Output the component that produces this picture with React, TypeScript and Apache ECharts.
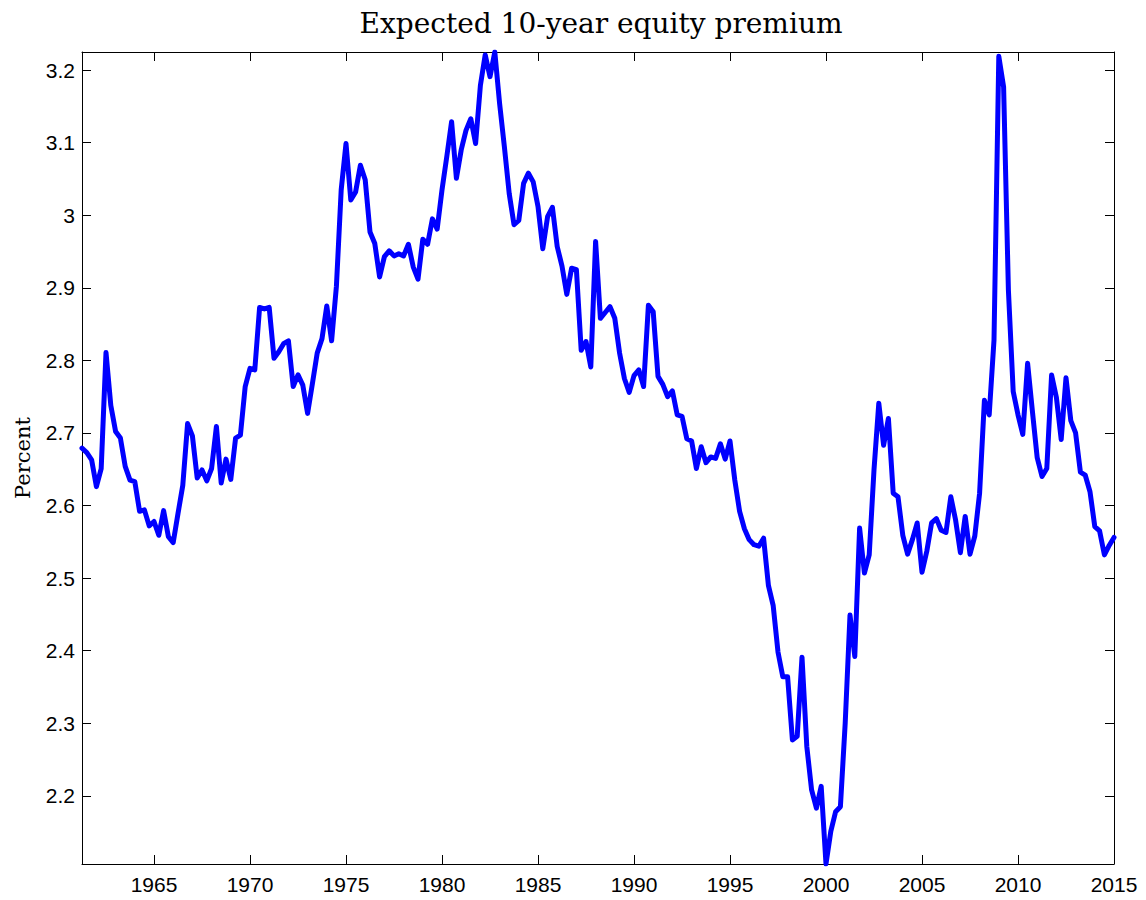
import React, { useEffect, useRef } from "react";
import * as echarts from "echarts";

// ---- Chart texts ----
const chartTitle = "Expected 10-year equity premium";
const yAxisTitle = "Percent";

// ---- Time axis: quarterly observations ----
const firstQuarter = 1961.25;
const quarterStep = 0.25;

// ---- Series values (percent), quarterly ----
const premium1961to1970 = [
  2.679, 2.673, 2.663,
  2.626, 2.651, 2.811, 2.738,
  2.702, 2.693, 2.654, 2.635,
  2.633, 2.592, 2.594, 2.572,
  2.578, 2.559, 2.593, 2.557,
  2.549, 2.589, 2.628, 2.713,
  2.696, 2.638, 2.649, 2.634,
  2.651, 2.709, 2.631, 2.664,
  2.636, 2.693, 2.697, 2.764,
];
const premium1970to1980 = [
  2.789, 2.787, 2.873, 2.871,
  2.873, 2.803, 2.812, 2.823,
  2.827, 2.764, 2.78, 2.766,
  2.727, 2.768, 2.81, 2.83,
  2.875, 2.827, 2.902, 3.035,
  3.099, 3.021, 3.032, 3.069,
  3.049, 2.977, 2.961, 2.915,
  2.943, 2.951, 2.944, 2.947,
  2.944, 2.96, 2.929, 2.912,
  2.967, 2.96, 2.995, 2.981,
];
const premium1980to1990 = [
  3.035, 3.081, 3.129, 3.051,
  3.09, 3.117, 3.133, 3.099,
  3.179, 3.221, 3.191, 3.225,
  3.154, 3.094, 3.03, 2.987,
  2.993, 3.044, 3.058, 3.046,
  3.012, 2.954, 2.998, 3.011,
  2.957, 2.93, 2.891, 2.927,
  2.925, 2.814, 2.826, 2.791,
  2.964, 2.858, 2.866, 2.874,
  2.858, 2.81, 2.775, 2.756,
];
const premium1990to2000 = [
  2.779, 2.787, 2.764, 2.876,
  2.867, 2.778, 2.767, 2.75,
  2.758, 2.725, 2.723, 2.692,
  2.689, 2.651, 2.681, 2.659,
  2.667, 2.665, 2.685, 2.664,
  2.689, 2.635, 2.592, 2.568,
  2.553, 2.546, 2.544, 2.555,
  2.49, 2.462, 2.398, 2.364,
  2.364, 2.277, 2.282, 2.391,
  2.268, 2.208, 2.183, 2.213,
];
const premium2000to2010 = [
  2.106, 2.151, 2.178, 2.185,
  2.3, 2.449, 2.392, 2.569,
  2.507, 2.532, 2.649, 2.741,
  2.683, 2.72, 2.617, 2.612,
  2.559, 2.533, 2.553, 2.576,
  2.508, 2.537, 2.576, 2.582,
  2.566, 2.563, 2.612, 2.58,
  2.535, 2.585, 2.533, 2.558,
  2.617, 2.745, 2.725, 2.828,
  3.219, 3.177, 2.897, 2.757,
];
const premium2010to2015 = [
  2.725, 2.698, 2.796, 2.73,
  2.666, 2.64, 2.651, 2.78,
  2.749, 2.691, 2.776, 2.717,
  2.7, 2.646, 2.642, 2.619,
  2.571, 2.565, 2.532, 2.545,
  2.556,
];

// ---- Axis ticks ----
const xTickYears = [1965, 1970, 1975, 1980, 1985, 1990, 1995, 2000, 2005, 2010, 2015];
const yTickValues = [2.2, 2.3, 2.4, 2.5, 2.6, 2.7, 2.8, 2.9, 3, 3.1, 3.2];
const xRange = [1961.25, 2015];
const yRange = [2.106, 3.225];

const premiumValues = [
  ...premium1961to1970,
  ...premium1970to1980,
  ...premium1980to1990,
  ...premium1990to2000,
  ...premium2000to2010,
  ...premium2010to2015,
];

export default function App() {
  const ref = useRef<HTMLDivElement>(null);

  useEffect(() => {
    if (!ref.current) return;
    const chart = echarts.init(ref.current, null, { renderer: "svg" });
    const seriesData = premiumValues.map((v, i) => [firstQuarter + i * quarterStep, v]);

    const axisLine = { show: true, onZero: false, lineStyle: { color: "#000", width: 1 } };
    const labelStyle = {
      color: "#000",
      fontSize: 21,
      fontFamily: "'Liberation Sans', Arial, sans-serif",
    };
    const serif = "'DejaVu Serif', 'Liberation Serif', serif";

    chart.setOption({
      animation: false,
      backgroundColor: "#fff",
      title: {
        text: chartTitle,
        left: 596,
        top: 4,
        textAlign: "center",
        textStyle: {
          fontFamily: serif,
          fontSize: 28,
          fontWeight: "normal",
          color: "#000",
        },
      },
      grid: { left: 82, top: 52, width: 1032, height: 812, containLabel: false },
      xAxis: [
        {
          type: "value",
          position: "bottom",
          min: xRange[0],
          max: xRange[1],
          axisLine,
          axisTick: { show: true, inside: true, length: 9, customValues: xTickYears, lineStyle: { color: "#000" } },
          axisLabel: { ...labelStyle, customValues: xTickYears, margin: 10, formatter: (v: number) => String(v) },
          splitLine: { show: false },
        },
        {
          type: "value",
          position: "top",
          min: xRange[0],
          max: xRange[1],
          axisLine,
          axisTick: { show: true, inside: true, length: 9, customValues: xTickYears, lineStyle: { color: "#000" } },
          axisLabel: { show: false },
          splitLine: { show: false },
        },
      ],
      yAxis: [
        {
          type: "value",
          position: "left",
          min: yRange[0],
          max: yRange[1],
          name: yAxisTitle,
          nameLocation: "middle",
          nameGap: 49,
          nameTextStyle: {
            fontFamily: serif,
            fontSize: 21,
            color: "#000",
          },
          axisLine,
          axisTick: { show: true, inside: true, length: 9, customValues: yTickValues, lineStyle: { color: "#000" } },
          axisLabel: { ...labelStyle, customValues: yTickValues, margin: 7, formatter: (v: number) => String(+v.toFixed(2)) },
          splitLine: { show: false },
        },
        {
          type: "value",
          position: "right",
          min: yRange[0],
          max: yRange[1],
          axisLine,
          axisTick: { show: true, inside: true, length: 9, customValues: yTickValues, lineStyle: { color: "#000" } },
          axisLabel: { show: false },
          splitLine: { show: false },
        },
      ],
      series: [
        {
          type: "line",
          name: chartTitle,
          xAxisIndex: 0,
          yAxisIndex: 0,
          data: seriesData,
          showSymbol: false,
          clip: true,
          lineStyle: { color: "#0000ff", width: 5, join: "round", cap: "round" },
        },
      ],
    });

    return () => chart.dispose();
  }, []);

  return (
    <div
      ref={ref}
      style={{ position: "absolute", left: 0, top: 0, width: 1146, height: 900, background: "#fff" }}
    />
  );
}
